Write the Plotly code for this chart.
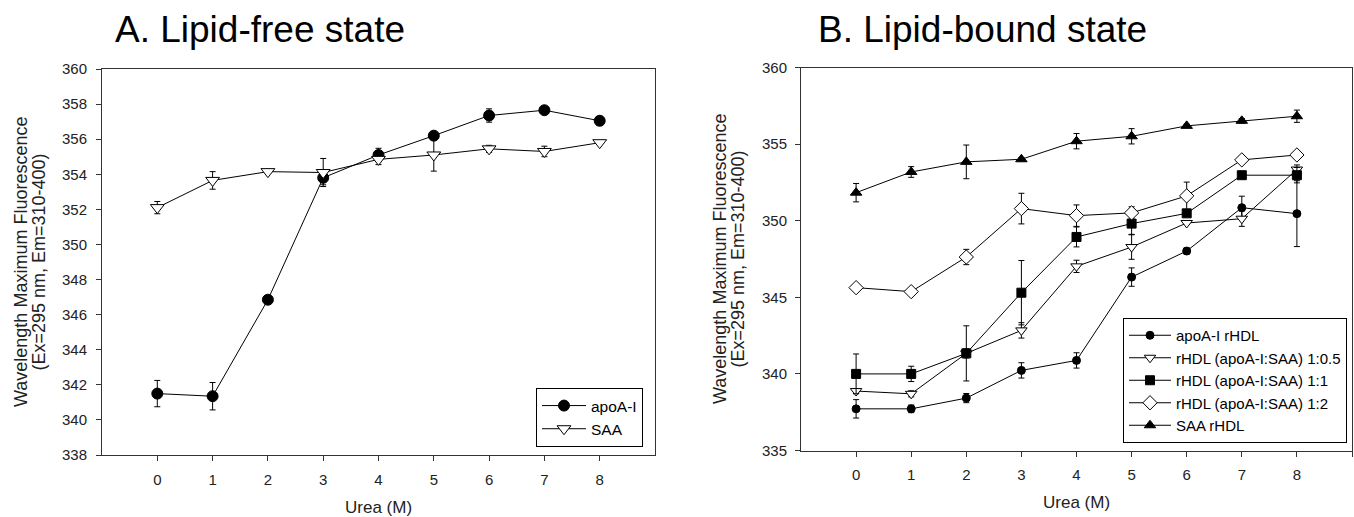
import plotly.graph_objects as go

FONT = "Liberation Sans, Arial, sans-serif"
W, H = 1354, 517

urea = [0, 1, 2, 3, 4, 5, 6, 7, 8]

# ---- Panel A: lipid-free state ----
a_apoA = [341.5, 341.35, 346.85, 353.8, 355.1, 356.2, 357.35, 357.65, 357.05]
a_apoA_err = [0.75, 0.78, 0.22, 0.4, 0.38, 0.15, 0.38, 0.12, 0.25]
a_saa = [352.1, 353.65, 354.15, 354.1, 354.85, 355.1, 355.45, 355.3, 355.8]
a_saa_err = [0.35, 0.5, 0.1, 0.8, 0.3, 0.92, 0.2, 0.3, 0.1]

# ---- Panel B: lipid-bound state ----
b_apoA_rhdl = [337.72, 337.72, 338.42, 340.23, 340.88, 346.32, 348.02, 350.85, 350.46]
b_apoA_rhdl_err = [0.6, 0.25, 0.3, 0.5, 0.5, 0.6, 0.2, 0.75, 2.15]
b_r05 = [338.88, 338.7, 341.34, 342.84, 347.02, 348.28, 349.85, 350.13, 353.34]
b_r05_err = [0.15, 0.2, 0.3, 0.5, 0.4, 0.8, 0.1, 0.5, 0.3]
b_r1 = [340.0, 340.0, 341.34, 345.3, 348.94, 349.81, 350.48, 352.97, 352.97]
b_r1_err = [1.3, 0.5, 1.8, 2.1, 0.65, 0.7, 0.2, 0.1, 0.5]
b_r2 = [345.63, 345.37, 347.63, 350.79, 350.33, 350.51, 351.62, 353.97, 354.29]
b_r2_err = [0.1, 0.1, 0.5, 1.0, 0.7, 0.4, 0.9, 0.1, 0.1]
b_saa_rhdl = [351.83, 353.18, 353.84, 354.01, 355.19, 355.51, 356.19, 356.52, 356.82]
b_saa_rhdl_err = [0.6, 0.35, 1.1, 0.1, 0.5, 0.5, 0.1, 0.15, 0.4]

a_ticks = [0, 1, 2, 3, 4, 5, 6, 7, 8]
b_ticks = [0, 1, 2, 3, 4, 5, 6, 7, 8, 9]
a_yticks = [338, 340, 342, 344, 346, 348, 350, 352, 354, 356, 358, 360]
b_yticks = [335, 340, 345, 350, 355, 360]

fig = go.Figure()


def add(x, y, err, name, symbol, size, fill, xa, ya, legend):
    fig.add_trace(go.Scatter(
        x=x, y=y, name=name, mode="lines+markers",
        xaxis=xa, yaxis=ya, legend=legend,
        line=dict(color="black", width=1),
        marker=dict(symbol=symbol, size=size, color=fill,
                    line=dict(color="black", width=1)),
        error_y=dict(type="data", array=err, visible=True,
                     color="black", thickness=1, width=3),
    ))


add(urea, a_apoA, a_apoA_err, "apoA-I", "circle", 11, "black", "x", "y", "legend")
add(urea, a_saa, a_saa_err, "SAA", "triangle-down", 12, "white", "x", "y", "legend")

add(urea, b_apoA_rhdl, b_apoA_rhdl_err, "apoA-I rHDL", "circle", 8, "black", "x2", "y2", "legend2")
add(urea, b_r05, b_r05_err, "rHDL (apoA-I:SAA) 1:0.5", "triangle-down", 10, "white", "x2", "y2", "legend2")
add(urea, b_r1, b_r1_err, "rHDL (apoA-I:SAA) 1:1", "square", 9, "black", "x2", "y2", "legend2")
add(urea, b_r2, b_r2_err, "rHDL (apoA-I:SAA) 1:2", "diamond", 11, "white", "x2", "y2", "legend2")
add(urea, b_saa_rhdl, b_saa_rhdl_err, "SAA rHDL", "triangle-up", 10, "black", "x2", "y2", "legend2")

axis_common = dict(
    showline=True, mirror=True, linecolor="#333", linewidth=1,
    ticks="outside", ticklen=5, tickcolor="#333", tickwidth=1,
    showgrid=False, zeroline=False, automargin=False,
    tickfont=dict(family=FONT, size=15, color="#222"),
)

fx = lambda px: px / W
fy = lambda py: 1 - py / H

fig.update_layout(
    template="none",
    width=W, height=H,
    margin=dict(l=0, r=0, t=0, b=0, pad=0, autoexpand=False),
    paper_bgcolor="white", plot_bgcolor="white",
    font=dict(family=FONT, color="black"),
    xaxis=dict(axis_common, domain=[fx(102), fx(655)], range=[-1, 9],
               tickvals=a_ticks, anchor="y", ticklabelstandoff=6),
    yaxis=dict(axis_common, domain=[fy(455), fy(69)], range=[338, 360],
               tickvals=a_yticks, anchor="x", ticklabelstandoff=6),
    xaxis2=dict(axis_common, domain=[fx(801), fx(1352)], range=[-1, 9],
                tickvals=b_ticks, anchor="y2", ticklabelstandoff=5),
    yaxis2=dict(axis_common, domain=[fy(450.5), fy(67.5)], range=[335, 360],
                tickvals=b_yticks, anchor="x2", ticklabelstandoff=5),
    legend=dict(
        x=fx(643), y=fy(447), xanchor="right", yanchor="bottom",
        bgcolor="white", bordercolor="black", borderwidth=1,
        itemwidth=44,
        font=dict(family=FONT, size=15.5, color="black"),
    ),
    legend2=dict(
        x=fx(1347), y=fy(443), xanchor="right", yanchor="bottom",
        bgcolor="white", bordercolor="black", borderwidth=1,
        itemwidth=42,
        font=dict(family=FONT, size=15, color="black"),
    ),
    showlegend=True,
)

ann = []
# Panel titles
ann.append(dict(text="A. Lipid-free state", x=fx(113), y=fy(29), xref="paper", yref="paper",
                xanchor="left", yanchor="middle", showarrow=False,
                font=dict(family=FONT, size=37, color="black")))
ann.append(dict(text="B. Lipid-bound state", x=fx(816), y=fy(29), xref="paper", yref="paper",
                xanchor="left", yanchor="middle", showarrow=False,
                font=dict(family=FONT, size=37, color="black")))
# X titles
for cx, cy in [(378, 508), (1076, 502)]:
    ann.append(dict(text="Urea (M)", x=fx(cx), y=fy(cy), xref="paper", yref="paper",
                    xanchor="center", yanchor="middle", showarrow=False,
                    font=dict(family=FONT, size=17, color="#222")))
# Y titles (two lines)
for l1, l2, cy in [(21, 38.5, 262), (720, 737.5, 259)]:
    ann.append(dict(text="Wavelength Maximum Fluorescence", x=fx(l1), y=fy(cy),
                    xref="paper", yref="paper", xanchor="center", yanchor="middle",
                    textangle=-90, showarrow=False,
                    font=dict(family=FONT, size=18, color="#222")))
    ann.append(dict(text="(Ex=295 nm, Em=310-400)", x=fx(l2), y=fy(cy),
                    xref="paper", yref="paper", xanchor="center", yanchor="middle",
                    textangle=-90, showarrow=False,
                    font=dict(family=FONT, size=18, color="#222")))
fig.update_layout(annotations=ann)

fig.write_html("out.html", config={"displayModeBar": False},
               post_script="document.body.style.margin='0';")
